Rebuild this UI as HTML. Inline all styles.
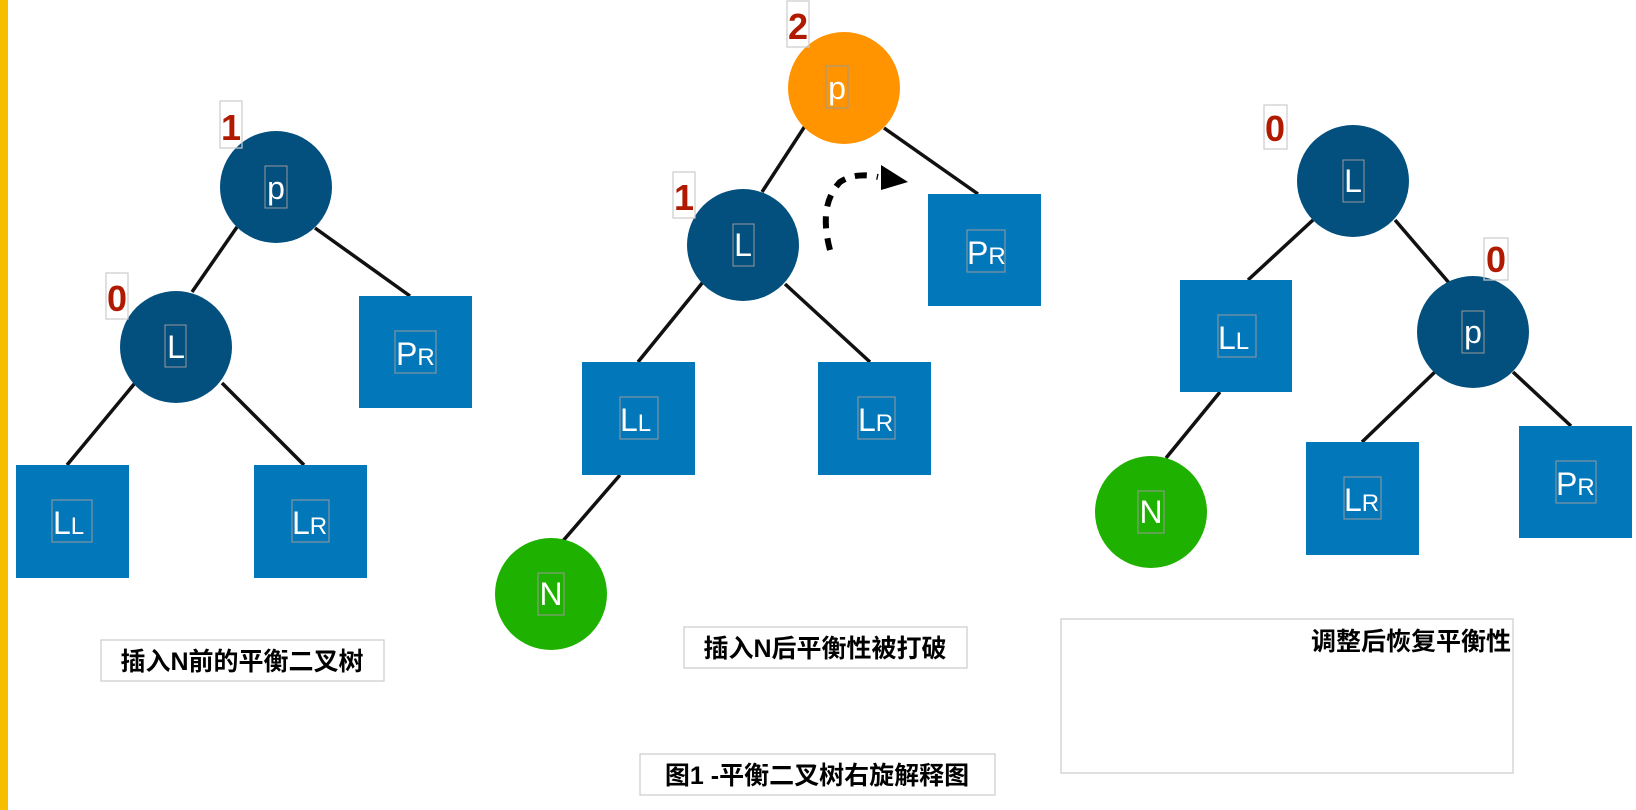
<!DOCTYPE html>
<html><head><meta charset="utf-8"><style>
html,body{margin:0;padding:0;background:#fff;width:1636px;height:810px;overflow:hidden}
svg text{font-family:"Liberation Sans","Noto Sans CJK SC",sans-serif}
</style></head><body>
<svg width="1636" height="810" viewBox="0 0 1636 810" xmlns="http://www.w3.org/2000/svg">
<rect x="0" y="0" width="8" height="810" fill="#F7BE00"/>
<g stroke="#111" stroke-width="3.5" fill="none">
<line x1="237" y1="227" x2="192" y2="292"/>
<line x1="315" y1="228" x2="410" y2="296"/>
<line x1="135" y1="383" x2="67" y2="465"/>
<line x1="222" y1="383" x2="304" y2="465"/>
<line x1="805" y1="126" x2="762" y2="192"/>
<line x1="884" y1="128" x2="978" y2="194"/>
<line x1="703" y1="282" x2="638" y2="362"/>
<line x1="785" y1="284" x2="870" y2="362"/>
<line x1="620" y1="475" x2="562" y2="542"/>
<line x1="1313" y1="220" x2="1248" y2="280"/>
<line x1="1395" y1="220" x2="1450" y2="284"/>
<line x1="1437" y1="370" x2="1362" y2="442"/>
<line x1="1513" y1="372" x2="1571" y2="426"/>
<line x1="1220" y1="392" x2="1166" y2="458"/>
</g>
<path d="M830 250 Q818 205 840 182 Q855 172 878 177" stroke="#000" stroke-width="6" fill="none" stroke-dasharray="12 10"/>
<polygon points="881,165 908,182 881,190" fill="#000"/>
<g fill="#03507F">
<circle cx="276" cy="187" r="56"/><circle cx="176" cy="347" r="56"/>
<circle cx="743" cy="245" r="56"/><circle cx="1353" cy="181" r="56"/><circle cx="1473" cy="332" r="56"/>
</g>
<circle cx="844" cy="88" r="56" fill="#FF9300"/>
<circle cx="551" cy="594" r="56" fill="#1FB100"/>
<circle cx="1151" cy="512" r="56" fill="#1FB100"/>
<g fill="#0277BA">
<rect x="359" y="296" width="113" height="112"/>
<rect x="16" y="465" width="113" height="113"/>
<rect x="254" y="465" width="113" height="113"/>
<rect x="582" y="362" width="113" height="113"/>
<rect x="818" y="362" width="113" height="113"/>
<rect x="928" y="194" width="113" height="112"/>
<rect x="1180" y="280" width="112" height="112"/>
<rect x="1306" y="442" width="113" height="113"/>
<rect x="1519" y="426" width="113" height="112"/>
</g>
<g fill="none" stroke="#999" stroke-width="1">
<rect x="265" y="166" width="22" height="42"/>
<rect x="165" y="325" width="21" height="42"/>
<rect x="395" y="331" width="41" height="42"/>
<rect x="826" y="66" width="22" height="42"/>
<rect x="733" y="224" width="21" height="42"/>
<rect x="967" y="230" width="38" height="42"/>
<rect x="620" y="397" width="38" height="42"/>
<rect x="858" y="397" width="37" height="42"/>
<rect x="52" y="500" width="40" height="42"/>
<rect x="292" y="500" width="37" height="42"/>
<rect x="538" y="573" width="26" height="42"/>
<rect x="1343" y="160" width="21" height="42"/>
<rect x="1462" y="311" width="22" height="42"/>
<rect x="1218" y="315" width="38" height="42"/>
<rect x="1344" y="477" width="37" height="42"/>
<rect x="1556" y="461" width="40" height="42"/>
<rect x="1138" y="491" width="26" height="42"/>
</g>
<g fill="#fff" font-size="32">
<text x="276" y="199" text-anchor="middle">p</text>
<text x="176" y="358" text-anchor="middle">L</text>
<text x="396" y="365">P<tspan font-size="24">R</tspan></text>
<text x="837" y="99" text-anchor="middle">p</text>
<text x="743" y="256" text-anchor="middle">L</text>
<text x="967" y="264">P<tspan font-size="24">R</tspan></text>
<text x="620" y="431">L<tspan font-size="24">L</tspan></text>
<text x="858" y="431">L<tspan font-size="24">R</tspan></text>
<text x="53" y="534">L<tspan font-size="24">L</tspan></text>
<text x="292" y="534">L<tspan font-size="24">R</tspan></text>
<text x="551" y="605" text-anchor="middle">N</text>
<text x="1353" y="192" text-anchor="middle">L</text>
<text x="1473" y="343" text-anchor="middle">p</text>
<text x="1218" y="349">L<tspan font-size="24">L</tspan></text>
<text x="1344" y="511">L<tspan font-size="24">R</tspan></text>
<text x="1556" y="495">P<tspan font-size="24">R</tspan></text>
<text x="1151" y="523" text-anchor="middle">N</text>
</g>
<g fill="none" stroke="#ccc" stroke-width="1.2">
<rect x="220" y="101" width="22" height="47"/>
<rect x="106" y="273" width="22" height="46"/>
<rect x="787" y="1" width="22" height="46"/>
<rect x="673" y="172" width="22" height="46"/>
<rect x="1264" y="105" width="23" height="44"/>
<rect x="1484" y="238" width="24" height="42"/>
<rect x="101" y="640" width="283" height="41"/>
<rect x="684" y="627" width="283" height="41"/>
<rect x="640" y="754" width="355" height="41"/>
<rect x="1061" y="619" width="452" height="154"/>
</g>
<g fill="#B01A00" font-size="36" font-weight="bold" text-anchor="middle">
<text x="231" y="140">1</text>
<text x="117" y="311">0</text>
<text x="798" y="39">2</text>
<text x="684" y="210">1</text>
<text x="1275" y="141">0</text>
<text x="1496" y="272">0</text>
</g>
<g fill="#000" font-size="25" font-weight="bold">
<text x="242" y="670" text-anchor="middle">插入N前的平衡二叉树</text>
<text x="825" y="657" text-anchor="middle">插入N后平衡性被打破</text>
<text x="817" y="784" text-anchor="middle">图1 -平衡二叉树右旋解释图</text>
<text x="1511" y="650" text-anchor="end">调整后恢复平衡性</text>
</g>
</svg>
</body></html>
